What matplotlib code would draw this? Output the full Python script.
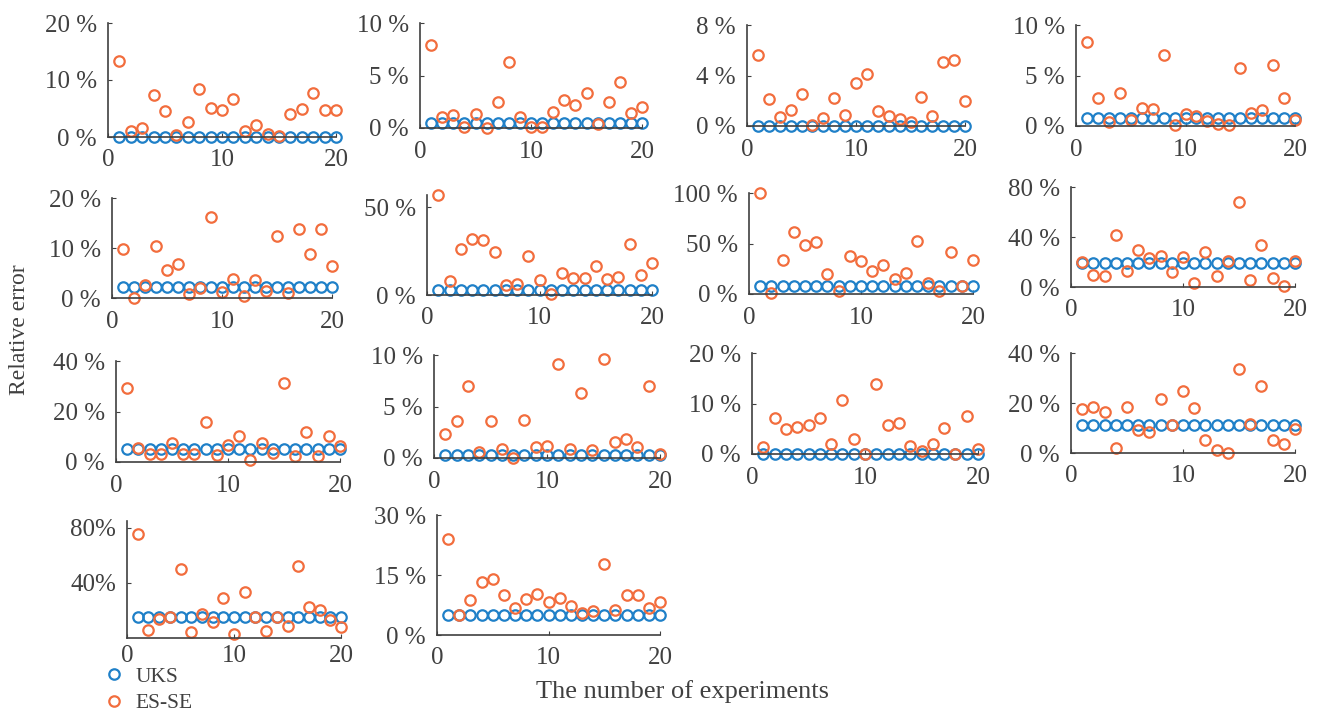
import numpy as np
import matplotlib
matplotlib.use('Agg')
import matplotlib.pyplot as plt
from matplotlib.lines import Line2D

plt.rcParams['font.family'] = ['Liberation Serif', 'DejaVu Serif']
plt.rcParams['font.size'] = 18

experiments = np.arange(1, 21)

# relative error (%) per panel: UKS is constant, ES-SE scattered
uks = [0.0, 0.5, 0.0, 0.83, 2.2, 2.8, 8.0, 19.2, 5.3, 0.26, 0.0, 11.3, 15.3, 5.1]

es_se_1 = [13.4, 1.06, 1.6, 7.35, 4.6, 0.3, 2.6, 8.35, 5.1, 4.7, 6.6, 1.06, 2.06, 0.5, 0.1, 4.1, 4.9, 7.8, 4.8, 4.8]
es_se_2 = [7.9, 1.06, 1.2, 0.1, 1.3, 0.0, 2.5, 6.3, 1.06, 0.1, 0.1, 1.5, 2.7, 2.2, 3.3, 0.4, 2.5, 4.35, 1.4, 2.0]
es_se_3 = [5.6, 2.1, 0.7, 1.3, 2.5, 0.08, 0.66, 2.2, 0.9, 3.4, 4.1, 1.2, 0.8, 0.55, 0.35, 2.3, 0.8, 5.1, 5.2, 2.0]
es_se_4 = [8.3, 2.8, 0.4, 3.3, 0.56, 1.8, 1.7, 7.0, 0.07, 1.2, 0.96, 0.5, 0.23, 0.07, 5.7, 1.3, 1.6, 6.0, 2.8, 0.56]
es_se_5 = [9.9, 0.0, 2.55, 10.5, 5.6, 6.9, 0.87, 2.1, 16.2, 1.2, 3.9, 0.5, 3.7, 1.4, 12.5, 1.0, 13.8, 8.9, 13.8, 6.4]
es_se_6 = [57.2, 8.1, 26.4, 32.0, 31.1, 24.5, 5.7, 6.2, 22.3, 8.5, 0.4, 12.8, 9.8, 9.8, 16.6, 9.1, 10.0, 28.9, 11.3, 18.3]
es_se_7 = [100, 1.3, 34, 61.7, 49, 51.3, 20, 3.3, 38, 33, 23, 29, 15, 20.7, 52.3, 11.3, 3.3, 41.7, 8, 33.3]
es_se_8 = [20, 9.3, 8.5, 41.3, 13, 29.9, 23.2, 24.5, 12, 24, 3.2, 28, 9, 21, 68, 5.9, 33.9, 7.2, 0.5, 20.5]
es_se_9 = [29.5, 5.7, 3.3, 3.3, 7.7, 3.0, 3.0, 15.9, 2.6, 6.9, 10.3, 0.9, 7.5, 3.6, 31.1, 2.25, 11.9, 2.25, 10.2, 6.3]
es_se_10 = [2.3, 3.6, 7.0, 0.6, 3.6, 0.9, 0.0, 3.7, 1.1, 1.15, 9.1, 0.85, 6.3, 0.75, 9.6, 1.6, 1.8, 1.1, 7.0, 0.36]
es_se_11 = [1.4, 7.1, 5.0, 5.3, 5.7, 7.1, 2.0, 10.6, 3.0, 0.0, 13.9, 5.8, 6.1, 1.65, 0.5, 2.0, 5.1, 0.0, 7.5, 1.0]
es_se_12 = [17.7, 18.3, 16.3, 2.0, 18.4, 9.3, 8.3, 21.7, 11.3, 24.9, 18.0, 5.3, 1.3, 0.0, 33.6, 11.7, 26.7, 5.3, 3.6, 9.7]
es_se_13 = [75.6, 5.8, 13.8, 15.3, 50.2, 4.4, 17.5, 11.6, 29.1, 2.9, 33.5, 15.3, 5.1, 15.3, 8.7, 52.4, 22.5, 20.4, 13.1, 8.0]
es_se_14 = [24, 5.1, 8.7, 13.3, 14.1, 10, 6.7, 9, 10.3, 8.2, 9.2, 7.2, 5.4, 5.9, 17.7, 6.2, 10, 10, 6.7, 8.2]

es_se = [es_se_1, es_se_2, es_se_3, es_se_4, es_se_5, es_se_6, es_se_7,
         es_se_8, es_se_9, es_se_10, es_se_11, es_se_12, es_se_13, es_se_14]

yticks = [[0, 10, 20], [0, 5, 10], [0, 4, 8], [0, 5, 10], [0, 10, 20], [0, 50],
          [0, 50, 100], [0, 40, 80], [0, 20, 40], [0, 5, 10], [0, 10, 20],
          [0, 20, 40], [40, 80], [0, 15, 30]]
ytop = [20, 10, 8, 10, 20, 57, 100, 80, 40, 10, 20, 40, 85, 30]

# panel boxes in pixels: left, top, right, bottom
W, H = 1322, 714
boxes = [(108, 23, 336, 137), (420, 23, 642, 128), (747, 25, 965, 126), (1076, 25, 1295, 126),
         (112, 198, 332, 298), (427, 195, 652, 295), (749, 193, 973, 294), (1071, 187, 1295, 287),
         (116, 361, 340, 462), (434, 355, 660, 458), (752, 353, 978, 454), (1071, 353, 1295, 453),
         (127, 521, 341, 638), (437, 515, 660, 635)]

blue = '#1f80c8'
orange = '#f26d3d'
grey = '#404040'

fig = plt.figure(figsize=(W / 100, H / 100), dpi=100)

for i, (l, t, r, b) in enumerate(boxes):
    ax = fig.add_axes([l / W, 1 - b / H, (r - l) / W, (b - t) / H])
    ax.plot(experiments, [uks[i]] * 20, 'o', mfc='none', mec=blue, ms=7.5, mew=1.6, clip_on=False)
    ax.plot(experiments, es_se[i], 'o', mfc='none', mec=orange, ms=7.5, mew=1.6, clip_on=False)
    ax.set_xlim(0, 20)
    ax.set_ylim(0, ytop[i])
    ax.set_xticks([0, 10, 20])
    ax.set_yticks(yticks[i])
    if i == 12:
        ax.set_yticklabels(['%d%%' % v for v in yticks[i]])
    else:
        ax.set_yticklabels(['%d %%' % v for v in yticks[i]])
    for s in ['top', 'right']:
        ax.spines[s].set_visible(False)
    for s in ['left', 'bottom']:
        ax.spines[s].set_color(grey)
        ax.spines[s].set_linewidth(1.2)
    ax.tick_params(direction='in', length=3, color=grey, labelcolor=grey, labelsize=18)
    ax.tick_params(axis='y', pad=8)
    ax.tick_params(axis='x', pad=9 if i != 12 else 5)
    ax.patch.set_alpha(0)

handles = [Line2D([], [], ls='none', marker='o', mfc='none', mec=blue, ms=7.5, mew=1.6),
           Line2D([], [], ls='none', marker='o', mfc='none', mec=orange, ms=7.5, mew=1.6)]
leg = fig.legend(handles, ['UKS', 'ES-SE'], loc='upper left', bbox_to_anchor=(0.078, 0.066),
                 frameon=False, fontsize=15.5, handletextpad=0.5, labelspacing=0.3,
                 handlelength=1.0, borderaxespad=0, borderpad=0)
for txt in leg.get_texts():
    txt.set_color(grey)

fig.text(682 / W, 1 - 692 / H, 'The number of experiments', ha='center', va='center', color=grey, fontsize=19)
fig.text(20 / W, 1 - 330 / H, 'Relative error', ha='center', va='center', rotation=90, color=grey, fontsize=17)

fig.savefig('out.png', dpi=100)
